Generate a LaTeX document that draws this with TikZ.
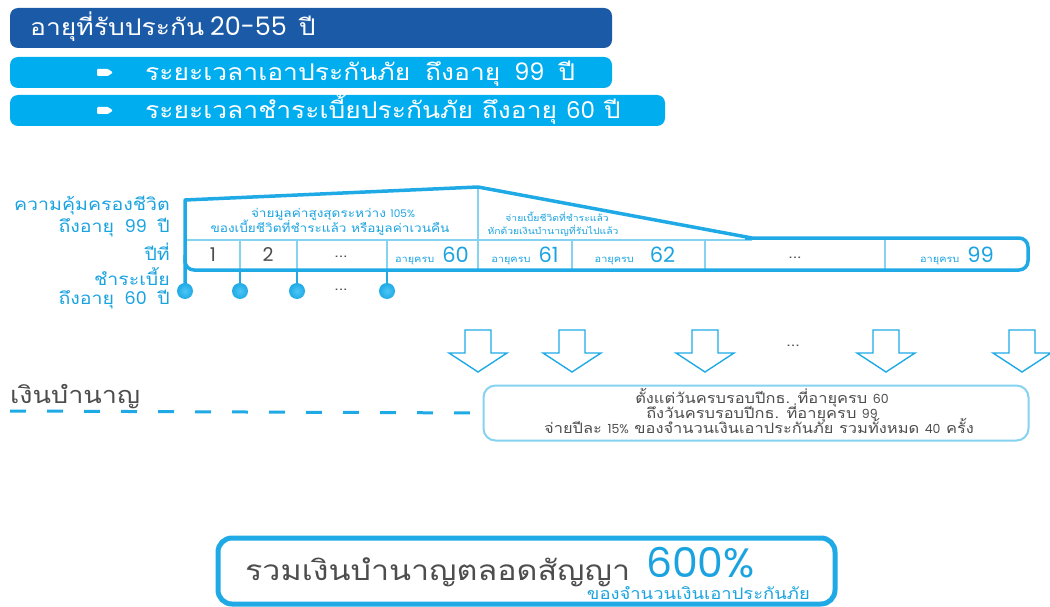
\documentclass[tikz,border=0pt]{standalone}
\usepackage{fontspec}
\setmainfont[Script=Thai, FakeStretch=1.15]{Loma}
\newfontfamily\pop{Poppins}
\definecolor{darkblue}{HTML}{1B5AA6}
\definecolor{cyanbox}{HTML}{00ADEF}
\definecolor{framecyan}{HTML}{1FAAE6}
\definecolor{lightcyan}{HTML}{86D2F1}
\definecolor{greytxt}{HTML}{4D4D4D}
\definecolor{labelcyan}{HTML}{1BA3E0}
\newcommand{\fs}[1]{\fontsize{#1}{#1}\selectfont}
\newcommand{\dg}[2]{{\pop\fontsize{#1}{#1}\selectfont #2}}
\tikzset{
  darkbox/.style={fill=darkblue, rounded corners=8, inner sep=0pt},
  cyanbar/.style={fill=cyanbox, rounded corners=8, inner sep=0pt},
  frame/.style={draw=framecyan, line width=3.5pt},
  divider/.style={draw=lightcyan, line width=2pt},
  pin/.style={draw=framecyan, line width=2.5pt},
  dot/.style={circle, inner sep=0pt, minimum size=16pt, shading=radial, inner color=cyanbox!70!white, outer color=framecyan},
  leftlbl/.style={anchor=base east, text=labelcyan, inner sep=0pt, font=\fs{17}},
  celltxt/.style={text=labelcyan, inner sep=0pt},
  hdr/.style={text=labelcyan, inner sep=0pt, anchor=base},
  ptxt/.style={text=greytxt, inner sep=0pt, anchor=base, font=\fs{14.3}},
  arrowline/.style={draw=framecyan, line width=1.4pt, line join=miter},
  harrow/.pic={\draw[arrowline] (-13,-21) -- (13,-21) -- (13,2) -- (29,2) -- (0,21) -- (-29,2) -- (-13,2) -- cycle;},
  pbox/.style={draw=lightcyan, line width=2pt, rounded corners=12, minimum width=545pt, minimum height=55pt, inner sep=0pt},
  totalbox/.style={draw=framecyan, line width=5pt, rounded corners=14, minimum width=617pt, minimum height=66pt, inner sep=0pt},
}
\begin{document}
\begin{tikzpicture}[x=1pt,y=-1pt]
\useasboundingbox (0,0) rectangle (1050,607);
% top bars
\node[darkbox, minimum width=602pt, minimum height=40pt] (agebox) at (311,28) {};
\node[anchor=base west, text=white, inner sep=0pt, font=\fs{23}] (agetxt) at (30,36) {อายุที่รับประกัน\hspace{6pt}\dg{25.5}{20-55}\hspace{3pt} ปี};
\node[cyanbar, minimum width=602pt, minimum height=31pt] (bar1) at (311,72.5) {};
\node[cyanbar, minimum width=655pt, minimum height=31pt] (bar2) at (337.5,110.5) {};
\fill[white, rounded corners=1pt] (97,69) -- (108,69) -- (113,72.5) -- (108,76) -- (97,76) -- cycle;
\fill[white, rounded corners=1pt] (97,107) -- (108,107) -- (113,110.5) -- (108,114) -- (97,114) -- cycle;
\node[anchor=base west, text=white, inner sep=0pt, font=\fs{23}] (bar1txt) at (145,81) {ระยะเวลาเอาประกันภัย\hspace{6pt} ถึงอายุ\hspace{5pt} \dg{24}{99}\hspace{5pt} ปี};
\node[anchor=base west, text=white, inner sep=0pt, font=\fs{23}] (bar2txt) at (145,119) {ระยะเวลาชำระเบี้ยประกันภัย ถึงอายุ \dg{23}{60} ปี};
% left labels
\node[leftlbl] (cov1) at (170,211) {ความคุ้มครองชีวิต};
\node[leftlbl] (cov2) at (170,232) {ถึงอายุ\hspace{4pt} \dg{17.5}{99}\hspace{4pt} ปี};
\node[leftlbl] (year) at (170,260) {ปีที่};
\node[leftlbl] (pay1) at (170,285) {ชำระเบี้ย};
\node[leftlbl] (pay2) at (170,304) {ถึงอายุ\hspace{4pt} \dg{17.5}{60}\hspace{4pt} ปี};
% inner dividers
\draw[divider] (185,240) -- (752,240);
\draw[divider] (478,188) -- (478,270);
\foreach \x in {240,297,387,572,705,885} \draw[divider] (\x,240) -- (\x,270);
% pins
\coordinate (p1) at (185,270);
\coordinate (p2) at (240,270);
\coordinate (p3) at (297,270);
\coordinate (p4) at (387,270);
\coordinate (q1) at (185,291);
\coordinate (q2) at (240,291);
\coordinate (q3) at (297,291);
\coordinate (q4) at (387,291);
\draw[pin] (p2) -- (q2);
\draw[pin] (p3) -- (q3);
\draw[pin] (p4) -- (q4);
% frame
\draw[frame, line join=round] (q1) -- (185,200) -- (478,187) -- (752,238);
\draw[frame, rounded corners=9pt] (745,238) -- (1028,238) -- (1028,270) -- (185,270) -- (185,255);
% dots
\node[dot] (d1) at (q1) {};
\node[dot] (d2) at (q2) {};
\node[dot] (d3) at (q3) {};
\node[dot] (d4) at (q4) {};
\node[text=greytxt, inner sep=0pt, font=\fs{14}] (ddots) at (341,290) {...};
% header texts
\node[hdr, font=\fs{11.8}] (hdr1a) at (333,217) {จ่ายมูลค่าสูงสุดระหว่าง \dg{10.5}{105\%}};
\node[hdr, font=\fs{11.8}] (hdr1b) at (330,232) {ของเบี้ยชีวิตที่ชำระแล้ว หรือมูลค่าเวนคืน};
\node[hdr, font=\fs{9}] (hdr2a) at (557,222) {จ่ายเบี้ยชีวิตที่ชำระแล้ว};
\node[hdr, font=\fs{9}] (hdr2b) at (553,234) {หักด้วยเงินบำนาญที่รับไปแล้ว};
% cells
\node[text=greytxt, inner sep=0pt, font={\pop\fs{19}}] (c1) at (213,255) {1};
\node[text=greytxt, inner sep=0pt, font={\pop\fs{19}}] (c2) at (268,255) {2};
\node[text=greytxt, inner sep=0pt, font=\fs{14}] (c3) at (341,257) {...};
\node[celltxt, anchor=base] (c4) at (432,262) {{\fs{9.5}อายุครบ}\hspace{8pt}\dg{21}{60}};
\node[celltxt, anchor=base] (c5) at (525,262) {{\fs{9.5}อายุครบ}\hspace{8pt}\dg{21}{61}};
\node[celltxt, anchor=base] (c6) at (635,262) {{\fs{9.5}อายุครบ}\hspace{16pt}\dg{21}{62}};
\node[text=greytxt, inner sep=0pt, font=\fs{14}] (c7) at (795,258) {...};
\node[celltxt, anchor=base] (c8) at (957,262) {{\fs{9.5}อายุครบ}\hspace{8pt}\dg{21}{99}};
% arrows
\foreach \x in {478,572,705,886,1022} \pic at (\x,351) {harrow};
\node[text=greytxt, inner sep=0pt, font=\fs{14}] (adots) at (793,346) {...};
% pension
\node[anchor=base west, text=greytxt, inner sep=0pt, font=\fs{23.5}] (pens) at (10,403) {เงินบำนาญ};
\node[pbox] (pension) at (756,413) {};
\node[ptxt] (pl1) at (762,403) {ตั้งแต่วันครบรอบปีกธ. ที่อายุครบ \dg{12.5}{60}};
\node[ptxt] (pl2) at (762,418) {ถึงวันครบรอบปีกธ. ที่อายุครบ \dg{12.5}{99}};
\node[ptxt] (pl3) at (759,433) {จ่ายปีละ \dg{12.5}{15\%} ของจำนวนเงินเอาประกันภัย รวมทั้งหมด \dg{12.5}{40} ครั้ง};
\coordinate (dashstart) at (10,411);
\draw[draw=framecyan, line width=3pt, dash pattern=on 16pt off 21pt] (dashstart) -- (pension.west);
% total
\node[totalbox] (total) at (526.5,571) {};
\node[anchor=base west, text=greytxt, inner sep=0pt, font=\fs{28}] (totaltxt) at (245,580) {รวมเงินบำนาญตลอดสัญญา};
\node[anchor=base west, text=labelcyan, inner sep=0pt, font={\pop\fs{41}}] (pct) at (646,577) {600\%};
\node[anchor=base east, text=labelcyan, inner sep=0pt, font=\fs{16}] (totalsub) at (810,599) {ของจำนวนเงินเอาประกันภัย};
\end{tikzpicture}
\end{document}
